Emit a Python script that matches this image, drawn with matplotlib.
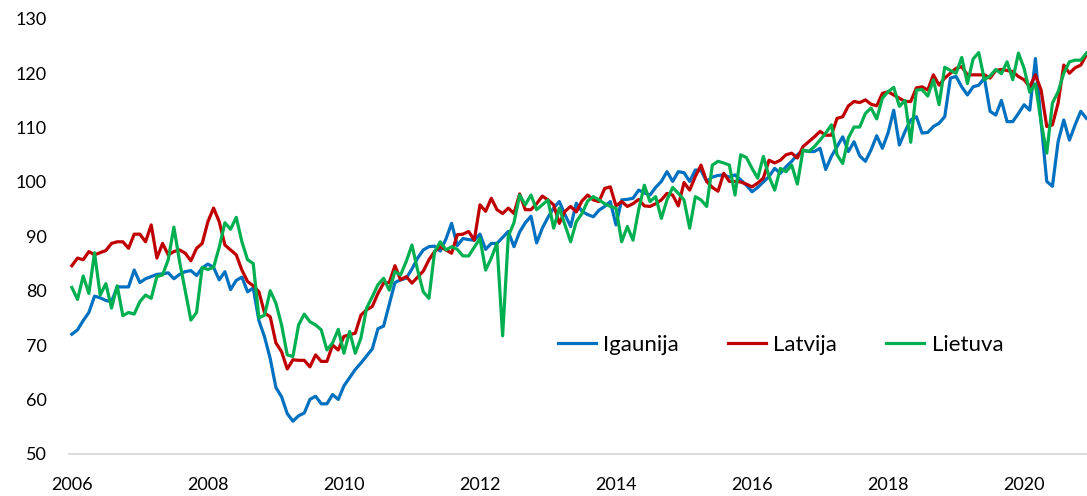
import numpy as np
import matplotlib
matplotlib.use("Agg")
import matplotlib.pyplot as plt

matplotlib.rcParams['font.family'] = ['Lato', 'DejaVu Sans']

# monthly index, Jan 2006 .. Dec 2020
years = ["2006", "2008", "2010", "2012", "2014", "2016", "2018", "2020"]

igaunija = [
    72.0, 72.8, 74.5, 76.0, 79.0, 78.7, 78.2, 78.0, 80.7, 80.7, 80.7, 83.8,
    81.5, 82.2, 82.6, 83.0, 83.1, 83.3, 82.2, 83.0, 83.5, 83.7, 82.8, 84.2,
    84.9, 84.3, 82.0, 83.5, 80.2, 81.9, 82.5, 79.8, 80.5, 74.5, 71.5, 67.5,
    62.2, 60.5, 57.4, 56.0, 57.0, 57.5, 60.0, 60.6, 59.2, 59.2, 60.9, 60.0,
    62.5, 64.0, 65.5, 66.7, 68.0, 69.3, 73.0, 73.5, 77.5, 81.5, 82.0, 82.3,
    84.0, 86.0, 87.5, 88.1, 88.2, 87.3, 89.5, 92.4, 88.3, 89.6, 89.4, 89.3,
    90.4, 87.6, 88.7, 88.7, 89.8, 90.9, 88.1, 90.8, 92.5, 93.7, 88.8, 91.5,
    93.5, 95.2, 96.4, 94.0, 91.8, 96.1, 94.6, 94.0, 93.6, 94.8, 95.5, 96.4,
    92.1, 96.7, 96.8, 97.0, 98.5, 98.0, 97.6, 99.0, 100.1, 101.9, 100.1, 101.9,
    101.7, 100.1, 102.2, 102.1, 100.1, 100.9, 101.2, 101.3, 100.9, 101.3, 100.4, 99.4,
    98.2, 99.0, 100.0, 101.0, 102.5, 101.6, 102.8, 103.8, 105.0, 105.8, 105.6, 105.6,
    106.2, 102.3, 104.7, 106.5, 108.3, 105.6, 107.4, 104.8, 103.8, 105.9, 108.5, 106.2,
    109.0, 113.2, 106.8, 109.3, 111.4, 112.0, 109.0, 109.1, 110.2, 110.8, 112.0, 119.1,
    119.4, 117.5, 116.0, 117.5, 117.8, 119.1, 113.0, 112.3, 115.0, 111.1, 111.1, 112.6,
    114.2, 113.2, 122.7, 111.0, 100.1, 99.2, 107.4, 111.4, 107.7, 110.5, 113.0, 111.7,
]

latvija = [
    84.6, 86.0, 85.7, 87.2, 86.6, 87.0, 87.4, 88.7, 89.0, 89.0, 87.8, 90.4,
    90.4, 89.0, 92.1, 86.0, 88.7, 86.6, 87.2, 87.5, 86.9, 85.5, 87.8, 88.7,
    92.7, 95.2, 92.7, 88.4, 87.5, 86.6, 83.8, 81.7, 80.9, 79.8, 75.9, 75.2,
    70.4, 68.8, 65.6, 67.3, 67.2, 67.2, 66.0, 68.2, 67.0, 67.0, 70.0, 69.1,
    71.6, 71.9, 72.2, 75.5, 76.5, 77.1, 79.5, 81.4, 81.5, 84.6, 82.0, 82.6,
    81.4, 82.5, 83.6, 85.7, 87.2, 88.1, 87.5, 86.9, 90.3, 90.4, 90.9, 89.3,
    95.8, 94.6, 97.0, 94.9, 94.2, 95.2, 94.2, 97.8, 94.9, 94.9, 96.0, 97.4,
    96.7, 95.8, 92.4, 94.6, 95.5, 94.5, 96.5, 97.6, 96.7, 96.4, 98.8, 99.1,
    95.6, 96.4, 95.5, 96.0, 96.8, 95.6, 95.5, 96.0, 96.7, 97.9, 97.6, 95.6,
    99.9, 98.5, 101.0, 103.1, 100.1, 99.0, 98.3, 101.6, 100.1, 100.1, 100.0, 99.6,
    99.1, 99.8, 100.7, 104.0, 103.5, 104.0, 105.0, 105.3, 104.4, 106.5, 107.4, 108.3,
    109.3, 108.6, 108.6, 111.7, 112.0, 114.0, 114.8, 114.6, 115.1, 114.3, 114.0, 116.3,
    116.6, 116.0, 115.4, 114.8, 114.8, 117.3, 117.5, 116.9, 119.7, 117.8, 119.1, 120.0,
    120.9, 121.2, 119.7, 119.7, 119.7, 119.7, 119.1, 120.5, 120.7, 120.5, 120.3, 119.4,
    118.8, 117.5, 119.7, 116.9, 110.2, 110.5, 114.5, 121.5, 120.0, 121.0, 121.5, 123.4,
]

lietuva = [
    80.6, 78.4, 82.7, 79.5, 87.0, 79.2, 81.3, 76.8, 80.9, 75.4, 76.0, 75.7,
    78.0, 79.2, 78.6, 82.6, 82.9, 85.7, 91.7, 85.4, 80.0, 74.6, 76.0, 84.3,
    83.9, 84.3, 88.0, 92.5, 91.3, 93.5, 89.0, 85.7, 85.0, 75.0, 75.5, 80.0,
    77.7, 73.7, 68.2, 67.9, 73.7, 75.7, 74.3, 73.7, 72.8, 69.1, 70.4, 72.9,
    68.5, 72.5, 68.5, 71.3, 76.8, 78.9, 81.1, 82.3, 80.1, 83.5, 82.9, 85.4,
    88.4, 83.8, 79.8, 78.6, 87.2, 89.0, 87.5, 88.1, 87.6, 86.4, 86.4, 88.0,
    89.6, 83.8, 86.0, 88.7, 71.7, 90.0, 92.5, 97.6, 95.8, 97.6, 94.9, 95.8,
    96.7, 91.5, 95.2, 92.1, 89.0, 92.7, 94.2, 96.5, 97.3, 96.7, 96.0, 95.5,
    95.2, 89.0, 91.8, 89.3, 94.9, 99.4, 96.4, 97.3, 93.3, 96.7, 99.0, 97.9,
    96.7, 91.5, 97.3, 96.7, 95.5, 103.1, 103.8, 103.5, 103.1, 97.6, 105.0, 104.5,
    102.5, 100.7, 104.7, 101.0, 98.5, 102.5, 101.9, 103.1, 99.6, 105.9, 105.6, 106.5,
    107.7, 109.0, 110.5, 105.0, 103.4, 108.1, 110.1, 110.1, 112.6, 113.6, 111.6, 115.4,
    116.6, 117.4, 113.9, 115.0, 107.3, 116.9, 117.0, 115.8, 118.8, 114.2, 121.1, 120.5,
    120.0, 122.9, 118.1, 122.6, 123.8, 118.8, 119.5, 120.7, 119.9, 122.1, 118.8, 123.7,
    120.9, 116.5, 118.0, 111.0, 105.3, 114.5, 116.6, 120.0, 122.1, 122.4, 122.4, 123.7,
]

months = np.arange(len(igaunija))

fig = plt.figure(figsize=(10.87, 4.96), dpi=100, facecolor='white')
ax = fig.add_axes([0.0635, 0.085, 0.9365, 0.877])

lw = 2.3
ax.plot(months, igaunija, color='#0070C0', lw=lw, label='Igaunija')
ax.plot(months, latvija, color='#C00000', lw=lw, label='Latvija')
ax.plot(months, lietuva, color='#00B050', lw=lw, label='Lietuva')

ax.set_ylim(50, 130)
ax.set_yticks(range(50, 131, 10))
ax.set_xlim(-0.5, 179.1)
ax.set_xticks(np.arange(0, len(months), 24))
ax.set_xticklabels(years)

for side in ['top', 'right', 'left']:
    ax.spines[side].set_visible(False)
ax.spines['bottom'].set_color('#D9D9D9')
ax.spines['bottom'].set_linewidth(1.3)
ax.tick_params(axis='both', length=0, labelsize=13, colors='#000000')
ax.tick_params(axis='y', pad=16)
ax.tick_params(axis='x', pad=17)

ax.legend(loc='center', bbox_to_anchor=(0.699, 0.25), ncol=3, frameon=False,
          fontsize=16, handlelength=1.7, handletextpad=0.35, columnspacing=2.2)

fig.savefig('out.png', dpi=100, facecolor='white')
